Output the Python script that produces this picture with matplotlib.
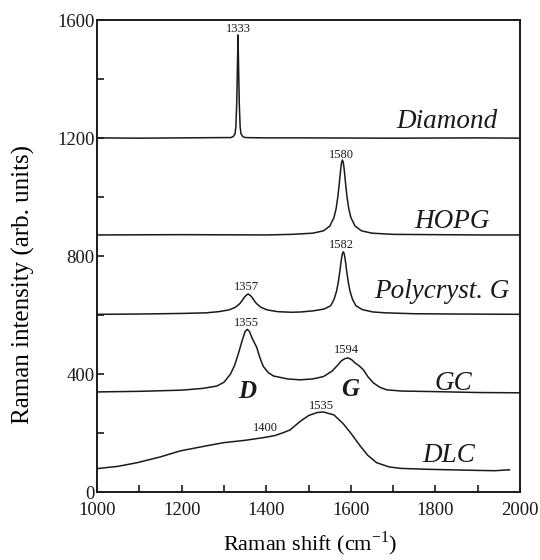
import matplotlib
matplotlib.use("Agg")
import matplotlib.pyplot as plt
from matplotlib.ticker import MultipleLocator, FuncFormatter

plt.rcParams["font.family"] = ["Liberation Serif", "DejaVu Serif"]
plt.rcParams["mathtext.fontset"] = "custom"
plt.rcParams["mathtext.rm"] = "Liberation Serif"

# Stacked Raman spectra (offset vertically), wavenumber in cm^-1
diamond_x = [1000, 1100, 1200, 1300, 1316, 1322, 1326, 1328, 1330, 1331.5, 1333,
             1334.5, 1336, 1338, 1340, 1344, 1350, 1400, 1500, 1700, 1900, 2000]
diamond_y = [1201, 1200, 1201, 1202, 1202, 1206, 1215, 1240, 1320, 1430, 1550,
             1430, 1320, 1240, 1215, 1206, 1202, 1201, 1201, 1200, 1201, 1200]

hopg_x = [1000, 1200, 1400, 1460, 1510, 1535, 1550, 1560, 1565, 1569, 1572, 1574,
          1576, 1578, 1580, 1582, 1584, 1586, 1588, 1591, 1595, 1600, 1610, 1625,
          1650, 1700, 1800, 1900, 2000]
hopg_y = [872, 873, 872, 874, 878, 886, 902, 931, 961, 1000, 1038, 1068,
          1096, 1118, 1126, 1118, 1096, 1068, 1038, 999, 961, 931, 902, 886,
          878, 874, 873, 872, 872]

poly_x = [1000, 1100, 1200, 1257, 1287, 1312, 1327, 1337, 1342, 1347, 1352, 1357,
          1362, 1367, 1372, 1377, 1387, 1402, 1427, 1460, 1482, 1512, 1537, 1552,
          1560, 1566, 1570, 1574, 1576, 1578, 1580, 1582, 1584, 1586, 1588, 1590,
          1594, 1598, 1604, 1612, 1627, 1652, 1682, 1750, 1850, 2000]
poly_y = [603, 604, 606, 608, 612, 618, 627, 639, 648, 659, 667, 672,
          667, 659, 648, 639, 627, 618, 612, 610, 611, 615, 621, 632,
          653, 681, 710, 750, 773, 794, 809, 815, 809, 794, 773, 750,
          710, 681, 653, 632, 619, 611, 608, 605, 604, 603]

gc_x = [1000, 1100, 1200, 1250, 1283, 1300, 1315, 1325, 1335, 1343, 1350, 1355,
        1360, 1367, 1377, 1385, 1393, 1405, 1417, 1450, 1480, 1510, 1535, 1555,
        1567, 1578, 1586, 1594, 1602, 1610, 1620, 1630, 1640, 1653, 1668, 1685,
        1720, 1800, 1900, 2000]
gc_y = [340, 342, 346, 352, 360, 373, 400, 430, 475, 515, 545, 552,
        545, 520, 492, 455, 426, 405, 394, 384, 381, 384, 392, 410,
        428, 446, 453, 455, 449, 438, 428, 414, 392, 371, 356, 347,
        343, 341, 338, 337]

dlc_x = [1000, 1050, 1094, 1150, 1196, 1250, 1299, 1350, 1393, 1420, 1440, 1456,
         1480, 1500, 1520, 1535, 1560, 1582, 1600, 1622, 1640, 1661, 1690, 1716,
         1775, 1835, 1900, 1940, 1975]
dlc_y = [80, 88, 100, 120, 140, 155, 168, 176, 185, 192, 202, 211,
         240, 260, 270, 272, 262, 232, 200, 157, 125, 100, 86, 81,
         78, 76, 74, 73, 76]

spectra = [(diamond_x, diamond_y), (hopg_x, hopg_y), (poly_x, poly_y),
           (gc_x, gc_y), (dlc_x, dlc_y)]

# Sample names: (text, x right edge, y baseline)
names = [("Diamond", 1946, 1235), ("HOPG", 1929, 896),
         ("Polycryst. G", 1976, 659), ("GC", 1886, 347), ("DLC", 1894, 104)]

# Peak position labels: (text, x, y)
peak_labels = [("1333", 1333, 1570), ("1580", 1578, 1143), ("1582", 1578, 838),
               ("1357", 1354, 697), ("1355", 1354, 573), ("1594", 1590, 482),
               ("1535", 1531, 292), ("1400", 1397, 217)]

band_labels = [("D", 1354, 341), ("G", 1598, 347)]

fig = plt.figure(figsize=(5.4, 5.6), dpi=100)
ax = fig.add_axes([0.18, 0.121, 0.783, 0.843])

for xs, ys in spectra:
    ax.plot(xs, ys, color="#1a1a1a", lw=1.1)

for text, x, y in names:
    ax.text(x, y, text, ha="right", va="baseline", fontsize=19.5,
            style="italic", color="#1a1a1a")

for text, x, y in peak_labels:
    ax.text(x, y, text, ha="center", va="center", fontsize=9, color="#1a1a1a")

for text, x, y in band_labels:
    ax.text(x, y, text, ha="center", va="center", fontsize=18,
            style="italic", fontweight="bold", color="#1a1a1a")

ax.set_xlim(1000, 2000)
ax.set_ylim(0, 1600)
ax.xaxis.set_major_locator(MultipleLocator(100))
ax.yaxis.set_major_locator(MultipleLocator(200))
ax.xaxis.set_major_formatter(FuncFormatter(lambda v, p: f"{int(v)}" if int(round(v)) % 200 == 0 else ""))
ax.yaxis.set_major_formatter(FuncFormatter(lambda v, p: f"{int(v)}" if int(round(v)) % 400 == 0 else ""))
ax.tick_params(direction="in", length=5, width=1.2, labelsize=13.5,
               top=False, right=False, colors="#1a1a1a")
ax.tick_params(axis="x", pad=7)
ax.tick_params(axis="y", pad=2)
for s in ax.spines.values():
    s.set_linewidth(1.4)
    s.set_color("#1a1a1a")

ax.set_xlabel(r"Raman shift (cm$^{\mathregular{-1}}$)", fontsize=16)
ax.set_ylabel("Raman intensity (arb. units)", fontsize=18)
ax.xaxis.set_label_coords(0.504, -0.078)
ax.yaxis.set_label_coords(-0.148, 0.441)

fig.savefig("out.png", dpi=100)
